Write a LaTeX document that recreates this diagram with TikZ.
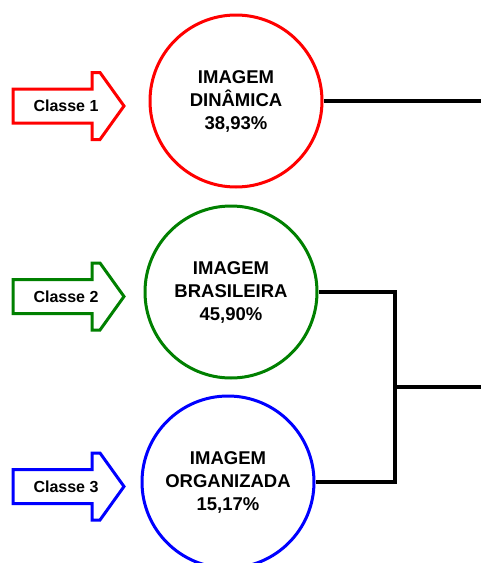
\documentclass[tikz,border=0pt]{standalone}
\usepackage{fontspec}
\setmainfont{Liberation Sans}
\definecolor{ggreen}{RGB}{0,128,0}
\newcommand\classarrow[4]{%
  \draw[arr=#1] (13,#2-17) -- (92,#2-17) -- (92,#2-33.5) -- (100,#2-33.5) -- (124,#2) -- (100,#2+33.5) -- (92,#2+33.5) -- (92,#2+17) -- (13,#2+17) -- cycle;
  \node[lab] (#3) at (66,#2) {#4};
}
\begin{document}
\begin{tikzpicture}[x=1pt,y=-1pt]
\tikzset{
  circ/.style={circle, draw=#1, line width=3pt, minimum size=172pt, inner sep=0pt, align=center, font=\bfseries\fontsize{18.5}{23}\selectfont},
  conn/.style={line width=3.5pt, black},
  arr/.style={draw=#1, line width=3pt, line join=miter, fill=white},
  lab/.style={font=\bfseries\fontsize{16}{19}\selectfont}
}
\useasboundingbox (0,0) rectangle (481,563);
\node[circ=red] (c1) at (236,101) {IMAGEM\\DINÂMICA\\38,93\%};
\node[circ=ggreen] (c2) at (231,292) {IMAGEM\\BRASILEIRA\\45,90\%};
\node[circ=blue] (c3) at (228,482) {IMAGEM\\ORGANIZADA\\15,17\%};
\coordinate (e1) at (481,101);
\coordinate (j) at (395,387);
\coordinate (e2) at (481,387);
\draw[conn] (c1.east) -- (e1);
\draw[conn] (c2.east) -| (j) |- (c3.east);
\draw[conn] (j) -- (e2);
\classarrow{red}{106}{a1}{Classe 1}
\classarrow{ggreen}{296.5}{a2}{Classe 2}
\classarrow{blue}{486.5}{a3}{Classe 3}
\end{tikzpicture}
\end{document}
